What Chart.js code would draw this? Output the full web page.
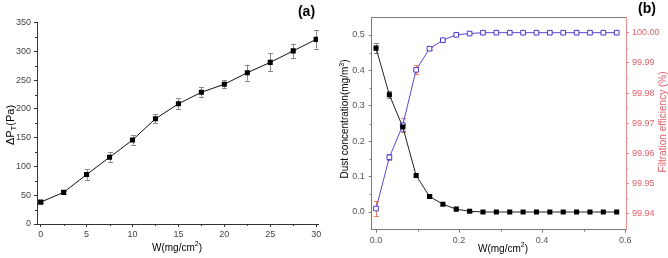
<!DOCTYPE html>
<html><head><meta charset="utf-8">
<script src="https://cdn.jsdelivr.net/npm/chart.js@4/dist/chart.umd.min.js"></script>
<style>
html,body{margin:0;padding:0;background:#fff;}
#wrap{position:relative;width:668px;height:258px;overflow:hidden;}
.box{position:absolute;top:0;height:258px;}
</style></head><body>
<div id="wrap">
<div class="box" style="left:0;width:330px"><canvas id="ca"></canvas></div>
<div class="box" style="left:330px;width:338px"><canvas id="cb"></canvas></div>
</div>
<script>
// ---------- data (a) ----------
const loadA   = [0, 2.5, 5, 7.5, 10, 12.5, 15, 17.5, 20, 22.5, 25, 27.5, 30];
const dpA     = [38, 55, 86, 116, 146, 183, 209, 229, 243, 263, 281, 301, 321];
const dpErrA  = [2, 2, 9, 9, 8, 8, 9.5, 9, 7, 14, 15.5, 12.5, 16];
const xTicksA = [0, 5, 10, 15, 20, 25, 30];
const xLabelsA = ['0', '5', '10', '15', '20', '25', '30'];
const xMinorA = [2.5, 7.5, 12.5, 17.5, 22.5, 27.5];
const yTicksA = [0, 50, 100, 150, 200, 250, 300, 350];
const yLabelsA = ['0', '50', '100', '150', '200', '250', '300', '350'];
const yMinorA = [25, 75, 125, 175, 225, 275, 325];

// ---------- data (b) ----------
const loadB   = [0, 0.0322, 0.0644, 0.0966, 0.1288, 0.161, 0.1932, 0.2254, 0.2576, 0.2898, 0.322, 0.3542, 0.3864, 0.4186, 0.4508, 0.483, 0.5152, 0.5474, 0.5796];
const dustB   = [0.463, 0.331, 0.240, 0.103, 0.044, 0.022, 0.008, 0.002, 0, 0, 0, 0, 0, 0, 0, 0, 0, 0, 0];
const dustErr = [0.014, 0.010, 0.010, 0.004, 0.003, 0.002, 0.001, 0.001, 0, 0, 0, 0, 0, 0, 0, 0, 0, 0, 0];
const effB    = [99.9417, 99.9587, 99.9693, 99.9877, 99.9947, 99.9975, 99.9993, 99.9997, 100, 100, 100, 100, 100, 100, 100, 100, 100, 100, 100];
const effErr  = [0.0025, 0.001, 0.0023, 0.0015, 0.0005, 0.0003, 0, 0, 0, 0, 0, 0, 0, 0, 0, 0, 0, 0, 0];
const xTicksB = [0, 0.2, 0.4, 0.6];
const xLabelsB = ['0.0', '0.2', '0.4', '0.6'];
const xMinorB = [0.1, 0.3, 0.5];
const yTicksB = [0, 0.1, 0.2, 0.3, 0.4, 0.5];
const yLabelsB = ['0.0', '0.1', '0.2', '0.3', '0.4', '0.5'];
const yMinorB = [0.05, 0.15, 0.25, 0.35, 0.45];
const y2TicksB = [99.94, 99.95, 99.96, 99.97, 99.98, 99.99, 100.00];
const y2LabelsB = ['99.94', '99.95', '99.96', '99.97', '99.98', '99.99', '100.00'];
const y2MinorB = [99.945, 99.955, 99.965, 99.975, 99.985, 99.995];

const FAM = '"Liberation Sans", Arial, Helvetica, sans-serif';

// ---------- plugins ----------
const errorBars = {
  id: 'errorBars',
  beforeDatasetsDraw(chart) {
    const ctx = chart.ctx;
    chart.data.datasets.forEach((ds, di) => {
      if (!ds.errors) return;
      const meta = chart.getDatasetMeta(di);
      const ys = chart.scales[meta.yAxisID];
      ctx.save();
      ctx.strokeStyle = ds.errorColor; ctx.lineWidth = 1;
      meta.data.forEach((pt, i) => {
        const e = ds.errors[i]; if (!e) return;
        const v = ds.data[i].y;
        const t = ys.getPixelForValue(v + e), b = ys.getPixelForValue(v - e);
        const x = Math.round(pt.x) + 0.5;
        ctx.beginPath();
        ctx.moveTo(x, t); ctx.lineTo(x, b);
        ctx.moveTo(x - 2.5, Math.round(t) + 0.5); ctx.lineTo(x + 2.5, Math.round(t) + 0.5);
        ctx.moveTo(x - 2.5, Math.round(b) + 0.5); ctx.lineTo(x + 2.5, Math.round(b) + 0.5);
        ctx.stroke();
      });
      ctx.restore();
    });
  }
};

const minorTicks = {
  id: 'minorTicks',
  afterDraw(chart, args, opts) {
    const ctx = chart.ctx;
    (opts.list || []).forEach(m => {
      const s = chart.scales[m.axis];
      ctx.save(); ctx.strokeStyle = m.color; ctx.lineWidth = 1; ctx.beginPath();
      m.values.forEach(v => {
        const p = Math.round(s.getPixelForValue(v)) + 0.5;
        if (s.isHorizontal()) { ctx.moveTo(p, s.top); ctx.lineTo(p, s.top + 2); }
        else if (s.position === 'left') { ctx.moveTo(s.right, p); ctx.lineTo(s.right - 2, p); }
        else { ctx.moveTo(s.left, p); ctx.lineTo(s.left + 2, p); }
      });
      ctx.stroke(); ctx.restore();
    });
  }
};

const texts = {
  id: 'texts',
  afterDraw(chart, args, opts) {
    const ctx = chart.ctx;
    (opts.list || []).forEach(t => {
      ctx.save();
      ctx.translate(t.x, t.y);
      if (t.rot) ctx.rotate(t.rot);
      ctx.fillStyle = t.color || '#000';
      ctx.textBaseline = 'middle';
      const parts = t.parts || [{s: t.text}];
      const sizes = parts.map(p => (p.sub || p.sup) ? t.size * 0.7 : t.size);
      let total = 0;
      parts.forEach((p, i) => { ctx.font = (t.bold ? 'bold ' : '') + sizes[i] + 'px ' + FAM; total += ctx.measureText(p.s).width; });
      let x = -total / 2;
      ctx.textAlign = 'left';
      parts.forEach((p, i) => {
        ctx.font = (t.bold ? 'bold ' : '') + sizes[i] + 'px ' + FAM;
        const dy = p.sub ? t.size * 0.3 : (p.sup ? -t.size * 0.35 : 0);
        ctx.fillText(p.s, x, dy);
        x += ctx.measureText(p.s).width;
      });
      ctx.restore();
    });
  }
};

const topBorder = {
  id: 'topBorder',
  afterDraw(chart, args, opts) {
    if (!opts.color) return;
    const a = chart.chartArea, ctx = chart.ctx;
    ctx.save(); ctx.strokeStyle = opts.color; ctx.lineWidth = 1;
    ctx.beginPath(); ctx.moveTo(a.left, Math.round(a.top) + 0.5); ctx.lineTo(a.right, Math.round(a.top) + 0.5); ctx.stroke();
    ctx.restore();
  }
};

Chart.register(errorBars, minorTicks, texts, topBorder);

function axis(cfg) {
  return {
    type: 'linear', position: cfg.position, min: cfg.min, max: cfg.max,
    grid: {display: true, drawOnChartArea: false, drawTicks: true, tickLength: 3, tickColor: cfg.color, color: cfg.color},
    border: {display: true, color: cfg.color, width: 1},
    ticks: {
      font: {family: FAM, size: 9}, color: cfg.labelColor, padding: cfg.padding,
      autoSkip: false, maxRotation: 0, minRotation: 0,
      callback: (v, i) => cfg.labels[i]
    },
    afterBuildTicks: s => { s.ticks = cfg.values.map(v => ({value: v})); },
    afterFit: s => { if (cfg.width !== undefined) s.width = cfg.width; if (cfg.height !== undefined) s.height = cfg.height; }
  };
}

// ---------- chart (a) ----------
const axA = '#333', lblA = '#444';
new Chart(document.getElementById('ca'), {
  type: 'line',
  data: {datasets: [{
    data: loadA.map((x, i) => ({x: x, y: dpA[i]})),
    errors: dpErrA, errorColor: '#8a8a8a',
    borderColor: '#111', borderWidth: 1, tension: 0,
    pointStyle: 'rect', pointRadius: 3.6, pointBackgroundColor: '#000', pointBorderColor: '#000', pointBorderWidth: 0
  }]},
  options: {
    responsive: true, maintainAspectRatio: false, animation: false, events: [],
    layout: {padding: {left: 0, right: 12, top: 22.7, bottom: 0}},
    plugins: {
      legend: {display: false}, tooltip: {enabled: false},
      minorTicks: {list: [{axis: 'x', values: xMinorA, color: axA}, {axis: 'y', values: yMinorA, color: axA}]},
      texts: {list: [
        {text: '(a)', x: 306.5, y: 12, size: 14, bold: true},
        {parts: [{s: 'W(mg/cm'}, {s: '2', sup: true}, {s: ')'}], x: 177, y: 248, size: 10},
        {parts: [{s: 'ΔP'}, {s: 'T', sub: true}, {s: '(Pa)'}], x: 11, y: 125, size: 11, rot: -Math.PI / 2}
      ]}
    },
    scales: {
      x: axis({min: -0.4, max: 30.2, values: xTicksA, labels: xLabelsA, color: axA, labelColor: lblA, padding: 2, height: 34}),
      y: axis({position: 'left', min: 0, max: 350, values: yTicksA, labels: yLabelsA, color: axA, labelColor: lblA, padding: 3, width: 37})
    }
  }
});

// ---------- chart (b) ----------
const axB = '#7a7a7a', lblB = '#555', redAx = '#f08a8e', redLbl = '#e0606c';
new Chart(document.getElementById('cb'), {
  type: 'line',
  data: {datasets: [
    {
      data: loadB.map((x, i) => ({x: x, y: dustB[i]})), yAxisID: 'y',
      errors: dustErr, errorColor: '#8a8a8a',
      borderColor: '#222', borderWidth: 1, tension: 0,
      pointStyle: 'rect', pointRadius: 3.6, pointBackgroundColor: '#000', pointBorderColor: '#000', pointBorderWidth: 0
    },
    {
      data: loadB.map((x, i) => ({x: x, y: effB[i]})), yAxisID: 'y2',
      errors: effErr, errorColor: '#e8826a',
      borderColor: '#5b46d6', borderWidth: 1, tension: 0,
      pointStyle: 'rect', pointRadius: 3.3, pointBackgroundColor: '#fff', pointBorderColor: '#4a35c8', pointBorderWidth: 1
    }
  ]},
  options: {
    responsive: true, maintainAspectRatio: false, animation: false, events: [],
    layout: {padding: {left: 0, right: 0, top: 17.3, bottom: 0}},
    plugins: {
      legend: {display: false}, tooltip: {enabled: false},
      topBorder: {color: axB},
      minorTicks: {list: [
        {axis: 'x', values: xMinorB, color: axB},
        {axis: 'y', values: yMinorB, color: axB},
        {axis: 'y2', values: y2MinorB, color: redAx}
      ]},
      texts: {list: [
        {text: '(b)', x: 317, y: 9, size: 14, bold: true},
        {parts: [{s: 'W(mg/cm'}, {s: '2', sup: true}, {s: ')'}], x: 173, y: 249, size: 10},
        {parts: [{s: 'Dust concentration(mg/m'}, {s: '3', sup: true}, {s: ')'}], x: 15.5, y: 119, size: 10, rot: -Math.PI / 2},
        {text: 'Filtration efficiency (%)', x: 333.5, y: 122, size: 10, rot: -Math.PI / 2, color: redLbl}
      ]}
    },
    scales: {
      x: axis({min: -0.0104, max: 0.602, values: xTicksB, labels: xLabelsB, color: axB, labelColor: lblB, padding: 2, height: 28.3}),
      y: axis({position: 'left', min: -0.05, max: 0.55, values: yTicksB, labels: yLabelsB, color: axB, labelColor: lblB, padding: 4, width: 41.7}),
      y2: axis({position: 'right', min: 99.9347, max: 100.0051, values: y2TicksB, labels: y2LabelsB, color: redAx, labelColor: redLbl, padding: 3, width: 42})
    }
  }
});
</script>
</body></html>
